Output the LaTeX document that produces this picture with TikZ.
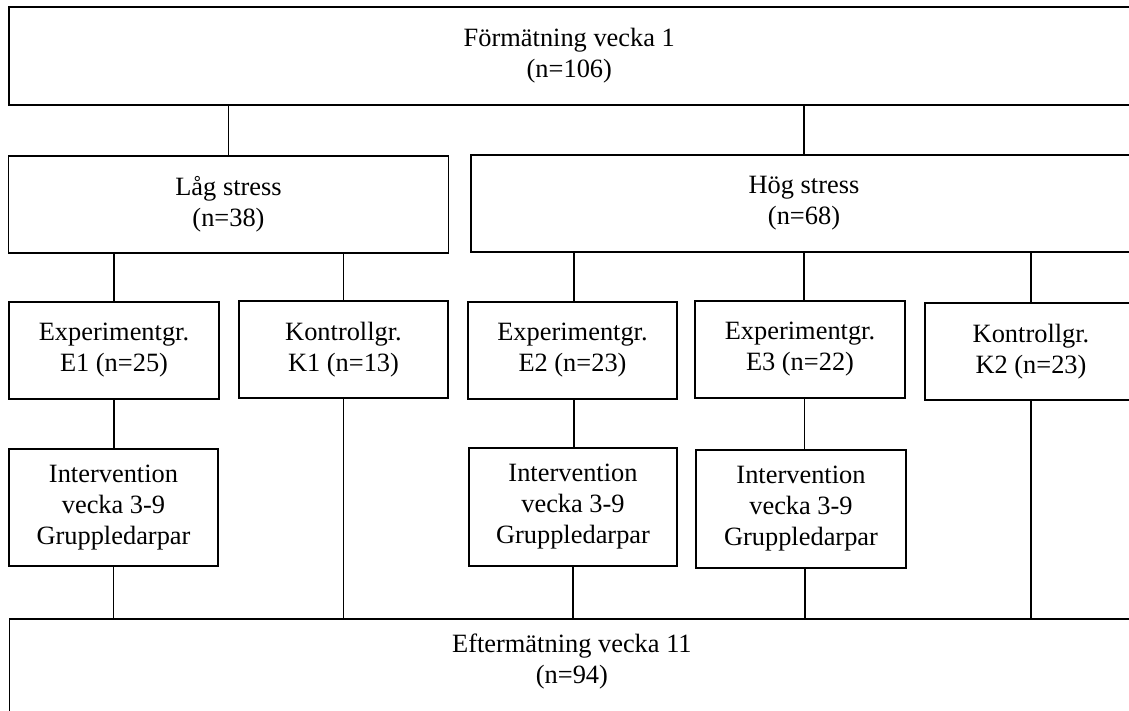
\documentclass[tikz,border=0pt]{standalone}
\usepackage{fontspec}
\setmainfont{Liberation Serif}
\begin{document}
\begin{tikzpicture}[x=1pt,y=-1pt,
  font=\fontsize{26.4}{31}\selectfont,
  box/.style={draw,line width=1.8pt,inner sep=0pt,align=center},
  link/.style={line width=1.3pt},
  txt/.style={inner sep=0pt,align=center}]
\useasboundingbox (0,0) rectangle (1129,711);
% boxes
\node[box,minimum width=1121.4pt,minimum height=98pt] (pre) at (569.3,56) {Förmätning vecka 1\\(n=106)};
\node[box,minimum width=440pt,minimum height=97pt] (low) at (228.5,204.5) {Låg stress\\(n=38)};
\node[box,minimum width=666pt,minimum height=97pt] (high) at (804,203.5) {Hög stress\\(n=68)};
\node[box,minimum width=210pt,minimum height=97pt] (e1) at (114,350.5) {Experimentgr.\\E1 (n=25)};
\node[box,minimum width=209.5pt,minimum height=97pt] (k1) at (343.5,349.5) {Kontrollgr.\\K1 (n=13)};
\node[box,minimum width=209pt,minimum height=97pt] (e2) at (572.5,350.5) {Experimentgr.\\E2 (n=23)};
\node[box,minimum width=209.5pt,minimum height=97pt] (e3) at (800,349.5) {Experimentgr.\\E3 (n=22)};
\node[box,minimum width=212pt,minimum height=97pt] (k2) at (1031,351.5) {Kontrollgr.\\K2 (n=23)};
\node[box,minimum width=209.5pt,minimum height=117pt] (i1) at (113.5,507.5) {Intervention\\vecka 3-9\\Gruppledarpar};
\node[box,minimum width=208pt,minimum height=118pt] (i2) at (573,507) {Intervention\\vecka 3-9\\Gruppledarpar};
\node[box,minimum width=210pt,minimum height=118pt] (i3) at (801,509) {Intervention\\vecka 3-9\\Gruppledarpar};
\node[box,minimum width=1124.8pt,minimum height=122pt,anchor=north west] (post) at (8.6,618) {};
\node[txt] (posttext) at ([yshift=-44pt]post.north) {Eftermätning vecka 11\\(n=94)};
% connectors
\draw[link] (low.north) -- (low.north |- pre.south);
\draw[link] (high.north) -- (high.north |- pre.south);
\draw[link] (e1.north) -- (e1.north |- low.south);
\draw[link] (k1.north) -- (k1.north |- low.south);
\draw[link] ([xshift=1.5pt]e2.north) -- ([xshift=1.5pt]e2.north |- high.south);
\draw[link] (high.south) -- (high.south |- e3.north);
\draw[link] (k2.north) -- (k2.north |- high.south);
\draw[link] (e1.south) -- (e1.south |- i1.north);
\draw[link] ([xshift=1.5pt]e2.south) -- ([xshift=1.5pt]e2.south |- i2.north);
\draw[link] ([xshift=4.5pt]e3.south) -- ([xshift=4.5pt]e3.south |- i3.north);
\draw[link] (k1.south) -- (k1.south |- post.north);
\draw[link] (k2.south) -- (k2.south |- post.north);
\draw[link] (i1.south) -- (i1.south |- post.north);
\draw[link] (i2.south) -- (i2.south |- post.north);
\draw[link] ([xshift=4pt]i3.south) -- ([xshift=4pt]i3.south |- post.north);
\end{tikzpicture}
\end{document}
